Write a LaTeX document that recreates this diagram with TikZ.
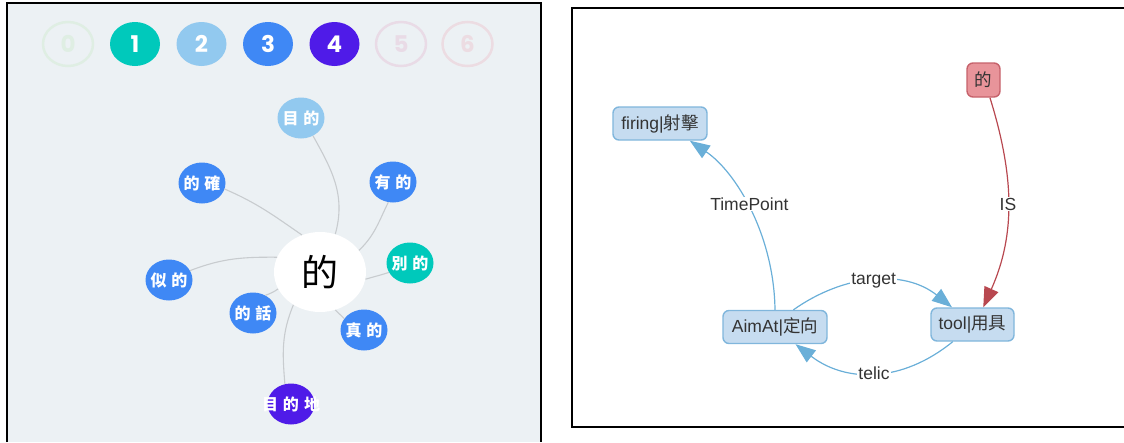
\documentclass[tikz,border=0pt]{standalone}
\usepackage{fontspec}
\setmainfont{Liberation Sans}
\newfontfamily\cjk{Noto Sans CJK TC}
\newfontfamily\numfont{Poppins}
\usetikzlibrary{shapes.geometric,arrows.meta}
\definecolor{panelbg}{HTML}{ECF1F4}
\definecolor{cteal}{HTML}{00C9BB}
\definecolor{clight}{HTML}{92C9EF}
\definecolor{cblue}{HTML}{3F88F5}
\definecolor{cpurple}{HTML}{4F1BE8}
\definecolor{cfaintg}{HTML}{DFEEE3}
\definecolor{cfaintp}{HTML}{E9DBE6}
\definecolor{cfaintr}{HTML}{ECDCE2}
\definecolor{edgegray}{HTML}{C8CCCF}
\definecolor{nodefill}{HTML}{C6DCF0}
\definecolor{nodedraw}{HTML}{80B6DC}
\definecolor{redfill}{HTML}{E8949A}
\definecolor{reddraw}{HTML}{C6626B}
\definecolor{bluearrow}{HTML}{6AAFD8}
\definecolor{redarrow}{HTML}{B84850}
\definecolor{txt}{HTML}{333333}
\begin{document}
\begin{tikzpicture}[x=1pt,y=-1pt,
  stepdot/.style={ellipse, minimum width=50pt, minimum height=44pt, inner sep=0pt,
    text=white, font=\numfont\bfseries\fontsize{23}{23}\selectfont},
  stepfaint/.style={stepdot, draw=#1, line width=2.5pt, text=#1},
  bubble/.style={ellipse, minimum width=47pt, minimum height=41pt, inner sep=0pt,
    fill=#1, text=white, font=\cjk\bfseries\fontsize{16}{16}\selectfont},
  hub/.style={ellipse, minimum width=92pt, minimum height=80pt, inner sep=0pt,
    fill=white, text=black, font=\cjk\fontsize{37}{37}\selectfont},
  spoke/.style={draw=edgegray, line width=1.1pt},
  rnode/.style={rectangle, rounded corners=6pt, draw=nodedraw, fill=nodefill,
    line width=1.4pt, minimum height=33pt, inner xsep=0pt, inner ysep=0pt,
    text=txt, font=\fontsize{17.5}{18}\selectfont},
  blueedge/.style={draw=bluearrow, line width=1.2pt,
    -{Triangle[length=20pt,width=15pt,fill=bluearrow]}},
  rededge/.style={draw=redarrow, line width=1.2pt,
    -{Triangle[length=20pt,width=15pt,fill=redarrow]}},
  elabel/.style={fill=white, inner sep=1pt, text=txt, font=\fontsize{17.5}{18}\selectfont}
]
\useasboundingbox (0,0) rectangle (1124,442);
% ---------- left panel ----------
\fill[panelbg] (7,3) rectangle (541,442);
\draw[line width=2pt, black] (7,442) -- (7,3) -- (541,3) -- (541,442);

\node[stepfaint=cfaintg] (s0) at (68,44) {0};
\node[stepdot, fill=cteal] (s1) at (135,44) {1};
\node[stepdot, fill=clight] (s2) at (201.5,44) {2};
\node[stepdot, fill=cblue] (s3) at (268,44) {3};
\node[stepdot, fill=cpurple] (s4) at (334.5,44) {4};
\node[stepfaint=cfaintp] (s5) at (401,44) {5};
\node[stepfaint=cfaintr] (s6) at (467.5,44) {6};

\node[hub] (C) at (320,272) {的};
\node[bubble=clight] (mude) at (301,118) {\makebox[0pt]{目\hspace{5pt}的}};
\node[bubble=cblue] (dique) at (202,183) {\makebox[0pt]{的\hspace{5pt}確}};
\node[bubble=cblue] (youde) at (393,182) {\makebox[0pt]{有\hspace{5pt}的}};
\node[bubble=cteal] (biede) at (410,263) {\makebox[0pt]{別\hspace{5pt}的}};
\node[bubble=cblue] (side) at (169,280) {\makebox[0pt]{似\hspace{5pt}的}};
\node[bubble=cblue] (dehua) at (253,313) {\makebox[0pt]{的\hspace{5pt}話}};
\node[bubble=cblue] (zhende) at (364,330) {\makebox[0pt]{真\hspace{5pt}的}};
\node[bubble=cpurple] (mudedi) at (291,404) {\makebox[0pt]{目\hspace{5pt}的\hspace{5pt}地}};

\draw[spoke] (C.68) .. controls (346,195) and (332,170) .. (mude.-56);
\draw[spoke] (C.116) .. controls (273,215) and (257,203) .. (dique.-15);
\draw[spoke] (C.29) .. controls (375,235) and (378.5,222) .. (youde.-103);
\draw[spoke] (C.-9) .. controls (373,277) and (381,275) .. (biede.204);
\draw[spoke] (C.161) .. controls (243,257) and (223,258) .. (side.24);
\draw[spoke] (C.202) .. controls (274,292) and (269,294) .. (dehua.55);
\draw[spoke] (C.-68) .. controls (338,313) and (342,316) .. (zhende.150);
\draw[spoke] (C.231) .. controls (281.4,333.7) and (282.3,353) .. (mudedi.107);

% ---------- right panel ----------
\draw[line width=2pt, black] (1124,8) -- (572,8) -- (572,427) -- (1124,427);

\node[rnode, minimum width=94pt] (firing) at (660,123.5) {firing|{\cjk 射擊}};
\node[rnode, minimum width=104pt] (aim) at (775,327) {AimAt|{\cjk 定向}};
\node[rnode, minimum width=83pt] (tool) at (972.5,324.5) {tool|{\cjk 用具}};
\node[rnode, draw=reddraw, fill=redfill, minimum width=33pt, minimum height=34pt] (de) at (983.5,80) {\cjk 的};

\draw[blueedge] (aim.north) .. controls (774,235) and (736,172) .. node[elabel, pos=0.5, yshift=5pt] {TimePoint} (firing.-30);
\draw[rededge] (de.-70) .. controls (1014,175) and (1016,234) .. node[elabel, pos=0.5] {IS} (tool.58);
\draw[blueedge] (aim.43) .. controls (844,274) and (904,269) .. node[elabel, pos=0.5] {target} (tool.140);
\draw[blueedge] (tool.221) .. controls (902,383) and (846,383) .. node[elabel, pos=0.5] {telic} (aim.-40);
\end{tikzpicture}
\end{document}
